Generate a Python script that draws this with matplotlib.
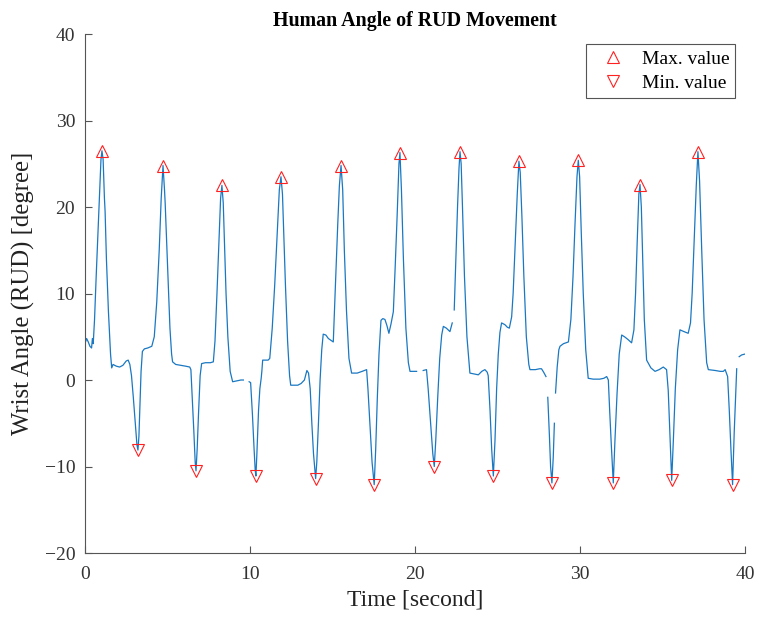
import numpy as np
import matplotlib
matplotlib.use("Agg")
import matplotlib.pyplot as plt

plt.rcParams['font.family'] = ['Liberation Serif', 'DejaVu Serif']

nan = np.nan

# Wrist angle trace (time in seconds, angle in degrees); NaN marks dropped samples
time_s = [
    0.00, 0.10, 0.20, 0.30, 0.40, 0.45, 0.50, 0.58, 0.68, 0.85, 0.97, 1.03, 1.10, 1.18, 1.22, 1.30,
    1.42, 1.55, 1.62, 1.70, 1.90, 2.10, 2.30, 2.50, 2.62, 2.72, 2.82, 2.93, 3.05, 3.15, 3.21, 3.27,
    3.33, 3.40, 3.48, 3.60, 3.80, 4.05, 4.20, 4.35, 4.50, 4.62, 4.73, 4.82, 4.86, 4.95, 5.05, 5.15,
    5.25, 5.31, 5.50, 5.80, 6.10, 6.35, 6.42, 6.50, 6.60, 6.68, 6.73, 6.80, 6.88, 6.98, 7.07, 7.30,
    7.60, 7.78, 7.88, 8.00, 8.12, 8.22, 8.30, 8.38, 8.45, 8.55, 8.66, 8.80, 8.95, 9.20, 9.45, 9.60,
    9.78, 9.95, 10.04, 10.15, 10.25, 10.32, 10.36, 10.42, 10.52, 10.60, 10.68, 10.72, 10.77, 10.90, 11.10, 11.20,
    11.35, 11.50, 11.65, 11.78, 11.88, 11.97, 12.05, 12.15, 12.28, 12.40, 12.47, 12.70, 12.90, 13.10, 13.30, 13.45,
    13.55, 13.65, 13.75, 13.85, 13.98, 14.05, 14.15, 14.25, 14.35, 14.44, 14.60, 14.75, 14.90, 15.05, 15.10, 15.20,
    15.32, 15.42, 15.52, 15.62, 15.72, 15.85, 16.00, 16.16, 16.50, 16.80, 17.07, 17.15, 17.28, 17.40, 17.53, 17.62,
    17.72, 17.82, 17.94, 18.05, 18.18, 18.30, 18.42, 18.55, 18.69, 18.80, 18.92, 19.03, 19.09, 19.18, 19.30, 19.45,
    19.60, 19.70, 19.90, 20.10, 20.30, 20.50, 20.70, 20.80, 20.95, 21.08, 21.17, 21.26, 21.38, 21.50, 21.62, 21.72,
    21.90, 22.12, 22.26, 22.32, 22.38, 22.48, 22.58, 22.67, 22.73, 22.80, 22.88, 23.00, 23.15, 23.33, 23.60, 23.84,
    24.05, 24.24, 24.38, 24.44, 24.55, 24.65, 24.75, 24.85, 24.95, 25.05, 25.15, 25.25, 25.45, 25.60, 25.72, 25.86,
    25.95, 26.08, 26.20, 26.30, 26.38, 26.48, 26.60, 26.75, 26.90, 26.97, 27.30, 27.55, 27.67, 27.80, 27.94, 28.00,
    28.05, 28.15, 28.22, 28.30, 28.38, 28.45, 28.48, 28.52, 28.62, 28.72, 28.79, 29.00, 29.30, 29.45, 29.58, 29.70,
    29.82, 29.90, 29.98, 30.08, 30.20, 30.35, 30.50, 30.80, 31.20, 31.45, 31.62, 31.72, 31.80, 31.90, 32.02, 32.12,
    32.25, 32.38, 32.53, 32.70, 32.90, 33.13, 33.27, 33.37, 33.47, 33.57, 33.64, 33.72, 33.80, 33.90, 34.04, 34.30,
    34.55, 34.80, 35.05, 35.25, 35.35, 35.45, 35.56, 35.66, 35.78, 35.92, 36.06, 36.30, 36.56, 36.70, 36.80, 36.92,
    37.05, 37.15, 37.25, 37.38, 37.52, 37.68, 37.78, 38.20, 38.50, 38.69, 38.80, 38.95, 39.05, 39.15, 39.25, 39.35,
    39.45, 39.50, 39.58, 39.65, 39.80, 40.00,
]
angle_deg = [
    4.2, 4.8, 4.4, 3.9, 3.7, 4.8, 4.2, 7.0, 12.0, 20.0, 25.5, 26.5, 25.5, 21.0, 19.5, 14.0,
    8.0, 3.0, 1.4, 1.8, 1.6, 1.5, 1.7, 2.2, 2.3, 1.8, 0.5, -2.0, -5.0, -7.5, -8.1, -6.5,
    -3.0, 1.0, 3.3, 3.6, 3.7, 3.9, 5.0, 9.0, 15.0, 21.0, 24.8, 22.0, 20.5, 16.0, 11.0, 6.0,
    3.0, 2.1, 1.8, 1.7, 1.6, 1.5, 1.2, -2.0, -6.0, -9.5, -10.5, -8.0, -4.0, 0.5, 1.9, 2.0,
    2.0, 2.1, 4.5, 10.0, 16.0, 21.0, 22.5, 20.5, 16.0, 10.0, 5.0, 1.0, -0.2, -0.1, 0.0, 0.0,
    nan, -0.2, -0.3, -4.0, -8.0, -10.5, -11.1, -8.5, -3.5, -1.0, 0.2, 1.0, 2.3, 2.3, 2.3, 2.5,
    6.0, 11.0, 17.0, 22.0, 23.5, 21.5, 17.0, 11.0, 4.5, 0.5, -0.6, -0.6, -0.6, -0.4, 0.0, 1.1,
    0.8, -1.0, -5.0, -8.5, -11.4, -9.5, -5.0, 0.0, 3.5, 5.3, 5.2, 4.8, 4.6, 4.4, 7.0, 12.0,
    18.0, 22.5, 24.8, 22.0, 15.0, 8.0, 2.5, 0.8, 0.8, 1.0, 1.2, -1.0, -5.5, -9.5, -12.1, -8.0,
    -2.0, 3.0, 6.9, 7.1, 7.0, 6.3, 5.4, 6.5, 7.9, 13.0, 19.0, 25.0, 26.3, 22.0, 14.0, 6.0,
    2.0, 1.0, 1.0, 1.0, nan, 1.1, 1.2, -1.0, -5.0, -8.5, -10.0, -7.0, -2.0, 2.5, 5.2, 6.2,
    6.0, 5.6, 6.6, nan, 8.1, 14.0, 20.0, 24.5, 26.4, 25.0, 20.0, 12.0, 5.0, 0.8, 0.7, 0.6,
    1.0, 1.2, 0.9, 0.5, -3.5, -8.0, -11.1, -7.0, -1.0, 3.0, 5.5, 6.6, 6.4, 6.1, 6.0, 7.3,
    10.0, 16.0, 21.5, 25.3, 24.0, 19.0, 12.0, 5.0, 1.8, 1.2, 1.2, 1.3, 1.3, 0.9, 0.4, nan,
    -2.0, -6.5, -10.0, -11.9, -9.0, -5.0, nan, -1.5, 1.5, 3.5, 3.9, 4.2, 4.4, 7.0, 12.0, 18.0,
    23.5, 25.4, 23.5, 17.0, 10.0, 3.5, 0.2, 0.1, 0.1, 0.2, 0.4, 0.0, -3.5, -7.5, -11.9, -7.0,
    -1.5, 3.0, 5.2, 5.0, 4.7, 4.3, 5.8, 10.0, 16.0, 21.5, 22.6, 20.0, 14.0, 7.0, 2.3, 1.4,
    1.0, 1.2, 1.5, 1.2, -1.2, -6.0, -11.6, -7.0, -1.0, 3.5, 5.8, 5.6, 5.4, 6.6, 10.0, 16.0,
    22.5, 26.4, 23.0, 15.0, 7.0, 2.0, 1.2, 1.1, 1.0, 1.0, 1.2, 0.4, -3.5, -8.0, -12.1, -6.0,
    -1.0, 1.3, nan, 2.7, 2.9, 3.0,
]

t = np.asarray(time_s)
a = np.asarray(angle_deg)

# Local extrema of the trace: peaks above 20 deg, troughs below -7 deg
prev_a = np.r_[nan, a[:-1]]
next_a = np.r_[a[1:], nan]
is_max = (a > 20) & (a >= prev_a) & (a >= next_a)
is_min = (a < -7) & (a <= prev_a) & (a <= next_a)

fig = plt.figure(figsize=(7.6, 6.21), dpi=100)
ax = fig.add_axes([0.1118, 0.1095, 0.8684, 0.8357])

ax.plot(t, a, color='#1a78c2', lw=0.9)
ax.plot(t[is_max], a[is_max], linestyle='none', marker='^', ms=8,
        mfc='none', mec='#FF2020', mew=0.8, label='Max. value')
ax.plot(t[is_min], a[is_min], linestyle='none', marker='v', ms=8,
        mfc='none', mec='#FF2020', mew=0.8, label='Min. value')

ax.set_xlim(0, 40)
ax.set_ylim(-20, 40)
ax.set_xticks([0, 10, 20, 30, 40])
ax.set_yticks([-20, -10, 0, 10, 20, 30, 40])
ax.set_yticklabels(['\u221220', '\u221210', '0', '10', '20', '30', '40'])

for side in ('top', 'right'):
    ax.spines[side].set_visible(False)
for side in ('left', 'bottom'):
    ax.spines[side].set_color('#555555')
    ax.spines[side].set_linewidth(0.8)
ax.tick_params(direction='in', length=5, width=0.8, color='#555555',
               labelcolor='#333333', labelsize=14)
ax.tick_params(axis='x', pad=9)
ax.tick_params(axis='y', pad=7)

ax.set_xlabel('Time [second]', fontsize=17, color='#222222', labelpad=5)
ax.set_ylabel('Wrist Angle (RUD) [degree]', fontsize=17.8, color='#222222', labelpad=7)
ax.set_title('Human Angle of RUD Movement', fontsize=14.4, fontweight='bold', pad=6)

leg = ax.legend(loc='upper right', fontsize=14, frameon=True, fancybox=False,
                framealpha=1, edgecolor='#555555', borderpad=0.3,
                handletextpad=0.35, handlelength=2.2, borderaxespad=0.0,
                labelspacing=0.35, bbox_to_anchor=(0.985, 0.98))
leg.get_frame().set_linewidth(0.8)

fig.savefig('out.png', dpi=100)
